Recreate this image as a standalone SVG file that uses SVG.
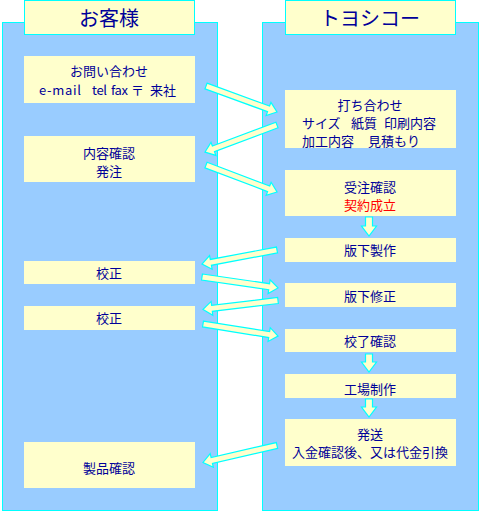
<svg xmlns="http://www.w3.org/2000/svg" width="481" height="514" viewBox="0 0 481 514">
<style>
.panel{fill:#99CCFF;stroke:#00FFFF;stroke-width:1}
.head{fill:#FFFFCC;stroke:#00FFFF;stroke-width:1}
.box{fill:#FFFFCC}
.arr{fill:#FFFFCC;stroke:#00FFFF;stroke-width:1.2;stroke-linejoin:miter}
text{font-family:"Noto Sans CJK JP","Noto Sans CJK SC",sans-serif;fill:#000099;font-size:13px;text-anchor:middle;dominant-baseline:central}
.ht{font-size:20px}
.red{fill:#FF0000}
.la{text-anchor:start}
</style>
<rect width="481" height="514" fill="#FFFFFF"/>
<g id="lane-customer">
<rect class="panel" x="2.5" y="22.5" width="215" height="488"/>
<rect class="head" x="24.5" y="0.5" width="170" height="34"/>
<text class="ht" x="109" y="17">お客様</text>
</g>
<g id="lane-toyoshiko">
<rect class="panel" x="262.5" y="22.5" width="216" height="488"/>
<rect class="head" x="285.5" y="0.5" width="170" height="34"/>
<text class="ht" x="370" y="17">トヨシコー</text>
</g>
<g id="n-inquiry"><rect class="box" x="24" y="56" width="171" height="47"/>
<text x="109" y="70">お問い合わせ</text>
<text class="la" x="39" y="89" textLength="42" lengthAdjust="spacing">e-mail</text>
<text class="la" x="92" y="89" textLength="15" lengthAdjust="spacing">tel</text>
<text class="la" x="111" y="89" textLength="17" lengthAdjust="spacing">fax</text>
<text class="la" x="131" y="89">〒</text>
<text class="la" x="150" y="89">来社</text></g>
<g id="n-meeting"><rect class="box" x="285" y="90" width="171" height="58"/>
<text x="370" y="104">打ち合わせ</text>
<text class="la" x="302" y="122">サイズ</text><text class="la" x="351" y="122">紙質</text><text class="la" x="384" y="122">印刷内容</text>
<text class="la" x="302" y="140">加工内容</text><text class="la" x="368" y="140">見積もり</text></g>
<g id="n-order"><rect class="box" x="24" y="136" width="171" height="46"/>
<text x="109" y="152">内容確認</text><text x="109" y="170">発注</text></g>
<g id="n-accept"><rect class="box" x="285" y="170" width="171" height="46"/>
<text x="370" y="186">受注確認</text><text class="red" x="370" y="204">契約成立</text></g>
<g id="n-plate"><rect class="box" x="285" y="238" width="171" height="24"/>
<text x="370" y="249.5">版下製作</text></g>
<g id="n-proof1"><rect class="box" x="24" y="261" width="171" height="23"/>
<text x="109" y="272.5">校正</text></g>
<g id="n-fix"><rect class="box" x="285" y="283" width="171" height="24"/>
<text x="370" y="295.5">版下修正</text></g>
<g id="n-proof2"><rect class="box" x="24" y="306" width="171" height="24"/>
<text x="109" y="317.5">校正</text></g>
<g id="n-final"><rect class="box" x="285" y="329" width="171" height="23"/>
<text x="370" y="340.5">校了確認</text></g>
<g id="n-factory"><rect class="box" x="285" y="374" width="171" height="24"/>
<text x="370" y="388">工場制作</text></g>
<g id="n-ship"><rect class="box" x="285" y="419" width="171" height="47"/>
<text x="370" y="433">発送</text><text x="370" y="451">入金確認後、又は代金引換</text></g>
<g id="n-check"><rect class="box" x="24" y="442" width="171" height="46"/>
<text x="109" y="467">製品確認</text></g>
<g id="connectors">
<polygon class="arr" transform="translate(206,86) rotate(20.1)" points="0,-3 66.6,-3 66.6,-7 75.6,0 66.6,7 66.6,3 0,3"/>
<polygon class="arr" transform="translate(277,125) rotate(159.4)" points="0,-3 67.9,-3 67.9,-7 76.9,0 67.9,7 67.9,3 0,3"/>
<polygon class="arr" transform="translate(206,165) rotate(20.8)" points="0,-3 67,-3 67,-7 76,0 67,7 67,3 0,3"/>
<polygon class="arr" transform="translate(369,217) rotate(90)" points="0,-3.5 9,-3.5 9,-7.5 19,0 9,7.5 9,3.5 0,3.5"/>
<polygon class="arr" transform="translate(277,250) rotate(169.4)" points="0,-3 67.3,-3 67.3,-7 76.3,0 67.3,7 67.3,3 0,3"/>
<polygon class="arr" transform="translate(202,277) rotate(8.2)" points="0,-3 67.8,-3 67.8,-7 76.8,0 67.8,7 67.8,3 0,3"/>
<polygon class="arr" transform="translate(278,300.5) rotate(173.2)" points="0,-3 66.5,-3 66.5,-7 75.5,0 66.5,7 66.5,3 0,3"/>
<polygon class="arr" transform="translate(203,324) rotate(9.1)" points="0,-3 67,-3 67,-7 76,0 67,7 67,3 0,3"/>
<polygon class="arr" transform="translate(369,354) rotate(90)" points="0,-3.5 8,-3.5 8,-7.5 18,0 8,7.5 8,3.5 0,3.5"/>
<polygon class="arr" transform="translate(369,399) rotate(90)" points="0,-3.5 8,-3.5 8,-7.5 18,0 8,7.5 8,3.5 0,3.5"/>
<polygon class="arr" transform="translate(277,445.5) rotate(167.1)" points="0,-3 66.9,-3 66.9,-7 75.9,0 66.9,7 66.9,3 0,3"/>
</g>
</svg>
